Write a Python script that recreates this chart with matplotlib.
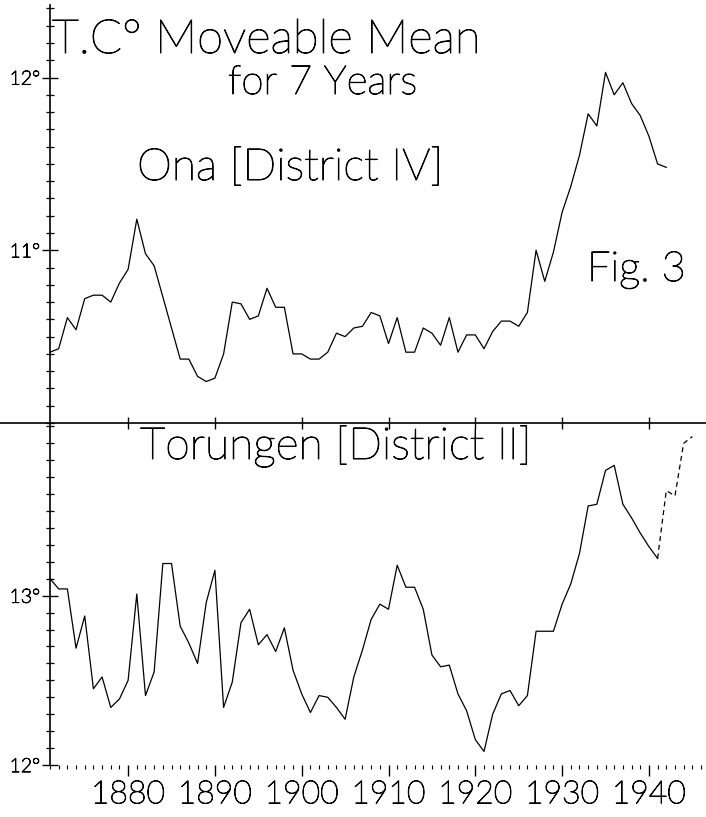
import numpy as np
import matplotlib
matplotlib.use("Agg")
import matplotlib.pyplot as plt
import matplotlib.patheffects as pe
from matplotlib.ticker import MultipleLocator, FixedLocator, NullFormatter
from matplotlib.lines import Line2D

# 7-year moving mean temperature, Ona (District IV)
ona_years = list(range(1871, 1943))
ona_temp = [10.41, 10.43, 10.61, 10.54, 10.72, 10.74, 10.74, 10.70, 10.81, 10.89,
            11.18, 10.98, 10.91, 10.73, 10.55, 10.37, 10.37, 10.27, 10.24, 10.26,
            10.40, 10.70, 10.69, 10.60, 10.62, 10.78, 10.67, 10.67, 10.40, 10.40,
            10.37, 10.37, 10.41, 10.52, 10.50, 10.55, 10.56, 10.64, 10.62, 10.46,
            10.61, 10.41, 10.41, 10.55, 10.52, 10.45, 10.61, 10.41, 10.51, 10.51,
            10.43, 10.53, 10.59, 10.59, 10.56, 10.64, 11.00, 10.82, 10.99, 11.22,
            11.37, 11.55, 11.79, 11.72, 12.03, 11.90, 11.97, 11.85, 11.78, 11.66,
            11.50, 11.48]

# Torungen (District II), solid part
tor_years = list(range(1871, 1942))
tor_temp = [13.10, 13.04, 13.04, 12.69, 12.88, 12.45, 12.52, 12.34, 12.39, 12.50,
            13.01, 12.41, 12.55, 13.19, 13.19, 12.82, 12.72, 12.60, 12.96, 13.15,
            12.34, 12.49, 12.84, 12.92, 12.71, 12.77, 12.67, 12.81, 12.56, 12.42,
            12.31, 12.41, 12.40, 12.34, 12.27, 12.52, 12.68, 12.86, 12.95, 12.92,
            13.18, 13.05, 13.05, 12.92, 12.65, 12.58, 12.59, 12.42, 12.32, 12.15,
            12.08, 12.30, 12.42, 12.44, 12.35, 12.41, 12.79, 12.79, 12.79, 12.95,
            13.07, 13.25, 13.53, 13.54, 13.74, 13.77, 13.54, 13.46, 13.37, 13.29,
            13.22]
# Torungen, dashed continuation
tor_dash_years = [1941, 1942, 1943, 1944, 1945]
tor_dash_temp = [13.22, 13.62, 13.59, 13.90, 13.94]

decades = [1880, 1890, 1900, 1910, 1920, 1930, 1940]
decade_labels = [str(d) for d in decades]

W, H = 706, 817
fig = plt.figure(figsize=(W / 100, H / 100), dpi=100)
fig.patch.set_facecolor("white")

def fx(x):
    return x / W

def fy(y):
    return 1 - y / H

left_px, right_px = 50, 701
mid_px, top_px, bot_px = 423, 5, 765

ax1 = fig.add_axes([fx(left_px), fy(mid_px), fx(right_px - left_px), (mid_px - top_px) / H])
ax2 = fig.add_axes([fx(left_px), fy(bot_px), fx(right_px - left_px), (bot_px - mid_px) / H])

xlim = (1871, 1946)
lw = 0.9
font = "Lato"
wt = "light"
ink = [pe.withStroke(linewidth=0.7, foreground="black")]

ax1.plot(ona_years, ona_temp, color="black", lw=lw, clip_on=False)
ax1.set_xlim(*xlim)
ax1.set_ylim(10.0, 12.42)

ax2.plot(tor_years, tor_temp, color="black", lw=lw, clip_on=False)
ax2.plot(tor_dash_years, tor_dash_temp, color="black", lw=lw, ls=(0, (4, 3)), clip_on=False)
ax2.set_xlim(*xlim)
ax2.set_ylim(12.0, 14.02)

for ax in (ax1, ax2):
    ax.set_facecolor("none")
    for s in ("top", "right", "bottom"):
        ax.spines[s].set_visible(False)
    ax.spines["left"].set_linewidth(1.2)
    ax.yaxis.set_minor_locator(MultipleLocator(0.1))
    ax.yaxis.set_minor_formatter(NullFormatter())
    ax.tick_params(axis="y", which="minor", direction="inout", length=6, width=0.9)
    ax.tick_params(axis="y", which="major", direction="inout", length=12, width=1.0,
                   labelsize=14, pad=1)

ax1.yaxis.set_major_locator(FixedLocator([11, 12]))
ax1.set_yticklabels(["11°", "12°"])
ax2.yaxis.set_major_locator(FixedLocator([12, 13]))
ax2.set_yticklabels(["12°", "13°"])

# middle line with decade ticks
fig.add_artist(Line2D([0, 1], [fy(mid_px), fy(mid_px)], color="black", lw=1.2))
ax1.set_xticks(decades)
ax1.set_xticklabels([])
ax1.tick_params(axis="x", which="major", direction="inout", length=8, width=1.0)

# bottom axis: year ticks only
ax2.set_xticks(decades)
ax2.set_xticklabels(decade_labels)
ax2.xaxis.set_minor_locator(MultipleLocator(1))
ax2.tick_params(axis="x", which="major", direction="out", length=8, width=1.0,
                labelsize=23, pad=3)
ax2.tick_params(axis="x", which="minor", direction="out", length=3, width=0.8)
for t in ax1.get_yticklabels() + ax2.get_yticklabels() + ax2.get_xticklabels():
    t.set_family(font)
    t.set_weight(wt)
    t.set_path_effects(ink)

fig.text(fx(52), fy(53), "T.C° Moveable Mean", family=font, weight=wt, fontsize=34,
         va="baseline", path_effects=ink)
fig.text(fx(228), fy(94), "for 7 Years", family=font, weight=wt, fontsize=29,
         va="baseline", path_effects=ink)
fig.text(fx(137), fy(180), "Ona [District IV]", family=font, weight=wt, fontsize=32,
         va="baseline", path_effects=ink)
fig.text(fx(587), fy(281), "Fig. 3", family=font, weight=wt, fontsize=30,
         va="baseline", path_effects=ink)
fig.text(fx(140), fy(459), "Torungen [District II]", family=font, weight=wt, fontsize=32,
         va="baseline", path_effects=ink)

fig.savefig("out.png", dpi=100, facecolor="white")
